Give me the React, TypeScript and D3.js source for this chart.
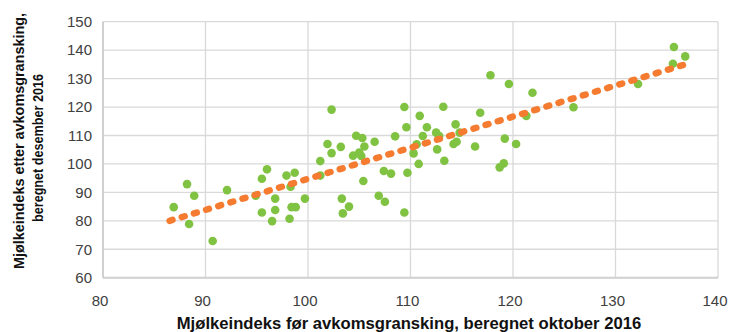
import React, { useLayoutEffect, useRef, useState } from "react";
import * as d3 from "d3";

const xValues = [
  86.9, 88.2, 88.9, 88.4, 90.7, 92.1, 94.9, 95.5, 96.0, 95.5, 96.8, 96.8, 96.5, 97.9, 98.7, 98.3, 98.4, 98.8, 98.2, 99.7,
  102.3, 101.9, 102.3, 103.2, 101.2, 101.2, 104.7, 105.3, 105.5, 104.4, 105.0, 105.2, 105.4, 106.5, 107.4, 108.1, 103.3,
  104.0, 103.4, 106.9, 107.5, 109.4, 109.6, 108.5, 110.9, 110.3, 110.8, 109.7, 109.4, 111.2, 111.6, 110.6, 113.2, 112.5,
  112.8, 112.6, 113.3, 114.4, 114.8, 114.2, 114.5, 116.8, 116.3, 119.2, 120.3, 118.7, 119.1, 121.3, 121.9, 117.8, 119.6,
  135.7, 136.8, 135.6, 132.2, 125.9,
];
const yValues = [
  84.8, 92.9, 88.8, 78.9, 72.9, 90.8, 88.8, 94.8, 98.1, 82.9, 87.8, 83.8, 79.9, 95.9, 96.9, 92.0, 84.8, 84.8, 80.7, 87.8,
  119.1, 107.0, 103.8, 106.0, 101.0, 95.9, 109.9, 109.1, 106.1, 102.9, 104.0, 102.8, 94.0, 107.8, 97.5, 96.6, 87.8,
  85.0, 82.6, 88.8, 86.7, 120.0, 112.9, 109.7, 116.9, 103.7, 100.0, 96.9, 82.9, 109.8, 112.9, 106.9, 120.1, 111.0,
  109.8, 105.1, 101.1, 113.9, 111.0, 107.0, 107.8, 118.0, 106.1, 108.9, 107.0, 98.8, 100.2, 116.9, 125.0, 131.2, 128.1,
  141.1, 137.8, 135.2, 128.1, 119.9,
];
const trendX = [86.5, 136.9];
const trendY = [80.0, 135.1];
const xTicks = [80, 90, 100, 110, 120, 130, 140];
const yTicks = [60, 70, 80, 90, 100, 110, 120, 130, 140, 150];
const xTitle = "Mjølkeindeks før avkomsgransking, beregnet oktober 2016";
const yTitleLines = ["Mjølkeindeks etter avkomsgransking,", "beregnet desember 2016"];

const W = 735;
const H = 332;
const left = 103;
const right = 718;
const top = 21.7;
const bottom = 277.7;

export default function App() {
  const x = d3.scaleLinear().domain([80, 140]).range([left, right]);
  const y = d3.scaleLinear().domain([60, 150]).range([bottom, top]);
  const points = xValues.map((v, i) => ({ x: v, y: yValues[i] }));
  const trend = trendX.map((v, i) => [v, trendY[i]] as [number, number]);
  const line = d3
    .line<[number, number]>()
    .x((d) => x(d[0]))
    .y((d) => y(d[1]));
  const tickFont = "'Liberation Sans', Arial, sans-serif";
  const titleFont = "'Liberation Sans', Arial, sans-serif";

  const targets = [464, 256, 148];
  const refs = [useRef<SVGTextElement>(null), useRef<SVGTextElement>(null), useRef<SVGTextElement>(null)];
  const [scales, setScales] = useState([0.85, 0.85, 0.85]);
  useLayoutEffect(() => {
    const s = refs.map((r, i) => {
      const el = r.current;
      if (!el) return 0.85;
      const len = el.getComputedTextLength();
      return len > 0 ? targets[i] / len : 0.85;
    });
    setScales(s);
  }, []);

  const yCenters = [141, 148];
  return (
    <svg
      width={W}
      height={H}
      style={{ position: "fixed", left: 0, top: 0, background: "#fff" }}
    >
      {yTicks.map((t) => (
        <line key={"gy" + t} x1={left} x2={right} y1={y(t)} y2={y(t)} stroke="#d9d9d9" strokeWidth={1.3} />
      ))}
      {xTicks.map((t) => (
        <line key={"gx" + t} x1={x(t)} x2={x(t)} y1={top} y2={bottom} stroke="#d9d9d9" strokeWidth={1.3} />
      ))}
      <line x1={left} x2={left} y1={top} y2={bottom} stroke="#d0d0d0" strokeWidth={2} />
      <line x1={left} x2={right} y1={bottom} y2={bottom} stroke="#d0d0d0" strokeWidth={2} />
      {yTicks.map((t) => (
        <text
          key={"ly" + t}
          x={92}
          y={y(t)}
          dy="0.35em"
          textAnchor="end"
          fontFamily={tickFont}
          fontSize={15}
          fill="#404040"
        >
          {t}
        </text>
      ))}
      {xTicks.map((t) => (
        <text
          key={"lx" + t}
          x={x(t) - 3}
          y={301}
          dy="0.35em"
          textAnchor="middle"
          fontFamily={tickFont}
          fontSize={15}
          fill="#404040"
        >
          {t}
        </text>
      ))}
      {points.map((p, i) => (
        <circle key={"p" + i} cx={x(p.x)} cy={y(p.y)} r={4.3} fill="#80c342" />
      ))}
      <path
        d={line(trend) || ""}
        fill="none"
        stroke="#f47b30"
        strokeWidth={6.5}
        strokeLinecap="round"
        strokeDasharray="3 9.7"
      />
      <text
        ref={refs[0]}
        transform={`translate(409,323) scale(${scales[0]},1)`}
        dy="0.35em"
        textAnchor="middle"
        fontFamily={titleFont}
        fontWeight="bold"
        fontSize={16}
        fill="#111"
      >
        {xTitle}
      </text>
      {yTitleLines.map((s, i) => (
        <text
          key={"yt" + i}
          ref={refs[i + 1]}
          transform={`translate(${19 + i * 19},${yCenters[i]}) rotate(-90) scale(${scales[i + 1]},1)`}
          dy="0.35em"
          textAnchor="middle"
          fontFamily={titleFont}
          fontWeight="bold"
          fontSize={15.5}
          fill="#111"
        >
          {s}
        </text>
      ))}
    </svg>
  );
}
